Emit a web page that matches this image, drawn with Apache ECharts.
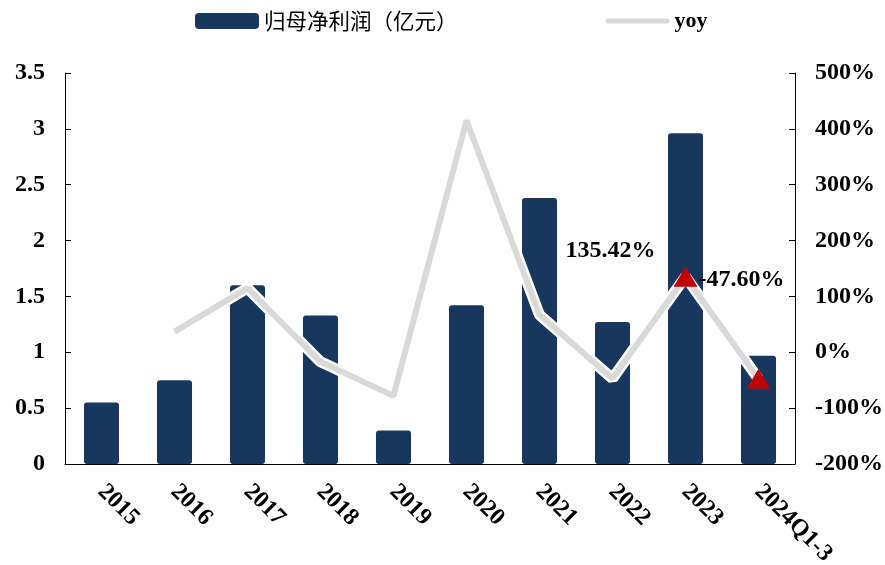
<!DOCTYPE html>
<html>
<head>
<meta charset="utf-8">
<script src="https://cdn.jsdelivr.net/npm/echarts@6/dist/echarts.min.js"></script>
<style>
  html, body { margin: 0; padding: 0; background: #fff; }
  #chart { width: 885px; height: 565px; }
</style>
</head>
<body>
<div id="chart"></div>
<script>
// Categories and series values
const categories = ['2015', '2016', '2017', '2018', '2019', '2020', '2021', '2022', '2023', '2024Q1-3'];
const netProfit = [0.55, 0.75, 1.60, 1.33, 0.30, 1.42, 2.38, 1.27, 2.96, 0.97]; // 亿元
const yoy = [null, 37, 115, -17, -78, 415, 67, -47, 135.42, -47.60];           // %
const leftTicks = { min: 0, max: 3.5, interval: 0.5 };
const rightTicks = { min: -200, max: 500, interval: 100 };

const serif = '"Liberation Serif", "Times New Roman", serif';
const cjk = '"Noto Sans CJK SC", sans-serif';
const barName = '归母净利润（亿元）';

// Highlighted yoy points: red triangle with a value label
const markedLabels = {
  8: { offset: [-75, -26] },
  9: { offset: [-17, -99] }
};
const yoyData = yoy.map((v, i) => {
  if (!markedLabels[i]) return v;
  return {
    value: v,
    symbol: 'triangle',
    symbolSize: [24, 20],
    itemStyle: { color: '#C00000' },
    label: {
      show: true,
      position: 'inside',
      offset: markedLabels[i].offset,
      formatter: () => v.toFixed(2) + '%',
      fontFamily: serif,
      fontWeight: 'bold',
      fontSize: 24,
      color: '#000'
    }
  };
});

const chart = echarts.init(document.getElementById('chart'), null, { renderer: 'canvas' });
chart.setOption({
  animation: false,
  backgroundColor: '#fff',
  grid: { left: 65, right: 90, top: 73, bottom: 101, containLabel: false, outerBoundsMode: 'none' },
  legend: {
    top: 5,
    left: 190,
    itemGap: 148,
    itemWidth: 64,
    itemHeight: 16,
    data: [
      {
        name: barName,
        icon: 'roundRect',
        itemStyle: { color: '#17375E' },
        textStyle: { fontFamily: cjk, fontSize: 21.5, color: '#000' }
      },
      {
        name: 'yoy',
        icon: 'path://M2,0 H62 A2.5,2.5 0 0 1 62,5 H2 A2.5,2.5 0 0 1 2,0 Z',
        itemStyle: { color: '#D9D9D9', borderWidth: 0 },
        textStyle: { fontFamily: serif, fontWeight: 'bold', fontSize: 22, color: '#000' }
      }
    ]
  },
  xAxis: {
    type: 'category',
    data: categories,
    boundaryGap: true,
    axisLine: { lineStyle: { color: '#000', width: 1 } },
    axisTick: { inside: true, length: 6, lineStyle: { color: '#000' } },
    axisLabel: {
      rotate: -45,
      margin: 24,
      interval: 0,
      fontFamily: serif,
      fontWeight: 'bold',
      fontSize: 24,
      color: '#000'
    },
    splitLine: { show: false }
  },
  yAxis: [
    {
      type: 'value',
      min: leftTicks.min,
      max: leftTicks.max,
      interval: leftTicks.interval,
      axisLine: { show: true, lineStyle: { color: '#000', width: 1 } },
      axisTick: { show: true, inside: true, length: 6, lineStyle: { color: '#000' } },
      axisLabel: { margin: 20, fontFamily: serif, fontWeight: 'bold', fontSize: 24, color: '#000' },
      splitLine: { show: false }
    },
    {
      type: 'value',
      min: rightTicks.min,
      max: rightTicks.max,
      interval: rightTicks.interval,
      position: 'right',
      axisLine: { show: true, lineStyle: { color: '#000', width: 1 } },
      axisTick: { show: true, inside: true, length: 6, lineStyle: { color: '#000' } },
      axisLabel: { margin: 20, formatter: '{value}%', fontFamily: serif, fontWeight: 'bold', fontSize: 24, color: '#000' },
      splitLine: { show: false }
    }
  ],
  series: [
    {
      name: barName,
      type: 'bar',
      data: netProfit,
      barWidth: '48%',
      itemStyle: { color: '#17375E', borderRadius: 3 },
      z: 2
    },
    {
      // white halo under the yoy line
      name: 'yoy-halo',
      type: 'line',
      yAxisIndex: 1,
      data: yoy,
      symbol: 'none',
      silent: true,
      lineStyle: { color: '#fff', width: 11 },
      z: 3
    },
    {
      name: 'yoy',
      type: 'line',
      yAxisIndex: 1,
      data: yoyData,
      symbol: 'none',
      showSymbol: true,
      itemStyle: { color: '#D9D9D9' },
      lineStyle: { color: '#D9D9D9', width: 6 },
      z: 4
    }
  ]
});
</script>
</body>
</html>
